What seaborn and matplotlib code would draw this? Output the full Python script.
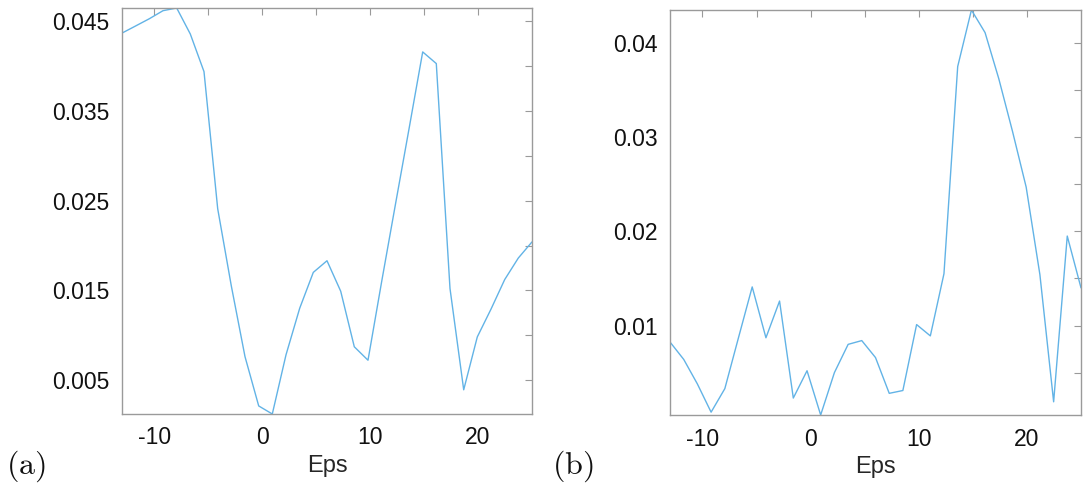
import numpy as np
import pandas as pd
import matplotlib
matplotlib.use("Agg")
import matplotlib.pyplot as plt
import seaborn as sns

# Eps grid shared by both panels
eps = [-13.00, -11.73, -10.47, -9.20, -7.93, -6.67, -5.40, -4.13, -2.87, -1.60,
       -0.33, 0.93, 2.20, 3.47, 4.73, 6.00, 7.27, 8.53, 9.80, 11.07,
       12.33, 13.60, 14.87, 16.13, 17.40, 18.67, 19.93, 21.20, 22.47, 23.73, 25.00]

# Panel (a) values
vals_a = [0.0437, 0.0445, 0.0453, 0.0462, 0.0465, 0.0436, 0.0394, 0.0241, 0.0155, 0.0076,
          0.0021, 0.0012, 0.0078, 0.0130, 0.0170, 0.0183, 0.0149, 0.0087, 0.0072, 0.0160,
          0.0245, 0.0330, 0.0416, 0.0403, 0.0152, 0.0039, 0.0098, 0.0129, 0.0162, 0.0186, 0.0204]

# Panel (b) values
vals_b = [0.00825, 0.0064, 0.0038, 0.0008, 0.0033, 0.0087, 0.0141, 0.0087, 0.0126, 0.0023,
          0.0052, 0.0005, 0.0050, 0.0080, 0.0084, 0.0066, 0.0028, 0.0031, 0.0101, 0.0089,
          0.0155, 0.0375, 0.0435, 0.0411, 0.0362, 0.0306, 0.0247, 0.0154, 0.0019, 0.0195, 0.0140]

yticks_a = [0.005, 0.01, 0.015, 0.02, 0.025, 0.03, 0.035, 0.04, 0.045]
ylabels_a = ["0.005", "", "0.015", "", "0.025", "", "0.035", "", "0.045"]
yticks_b = [0.005, 0.01, 0.015, 0.02, 0.025, 0.03, 0.035, 0.04]
ylabels_b = ["", "0.01", "", "0.02", "", "0.03", "", "0.04"]
xticks = [-10, -5, 0, 5, 10, 15, 20]
xlabels = ["-10", "", "0", "", "10", "", "20"]

sns.set_theme(style="white")
plt.rcParams["font.family"] = ["Liberation Sans", "DejaVu Sans"]
plt.rcParams["mathtext.fontset"] = "cm"

W, H = 1084, 484
fig = plt.figure(figsize=(W / 100, H / 100), dpi=100)
ax_a = fig.add_axes([122 / W, 1 - 414 / H, 410 / W, 406 / H])
ax_b = fig.add_axes([670 / W, 1 - 415 / H, 411 / W, 405 / H])

line_color = "#62b3e6"
spine_color = "#9a9a9a"

panels = [
    (ax_a, vals_a, yticks_a, ylabels_a, "(a)", 26),
    (ax_b, vals_b, yticks_b, ylabels_b, "(b)", 573),
]

for ax, vals, yt, yl, tag, tag_x in panels:
    df = pd.DataFrame({"Eps": eps, "value": vals})
    sns.lineplot(data=df, x="Eps", y="value", ax=ax, color=line_color, linewidth=1.0)
    ax.set_xlim(min(eps), max(eps))
    ax.set_ylim(min(vals), max(vals))
    ax.set_xticks(xticks)
    ax.set_xticklabels(xlabels)
    ax.set_yticks(yt)
    ax.set_yticklabels(yl)
    ax.set_ylabel("")
    ax.set_xlabel("Eps", fontsize=17, color="#262626", labelpad=4)
    ax.tick_params(direction="in", length=5, width=0.8, color=spine_color,
                   top=True, right=True, labelsize=16.5, labelcolor="#111111", pad=9)
    for sp in ax.spines.values():
        sp.set_visible(True)
        sp.set_color(spine_color)
        sp.set_linewidth(1.0)
    fig.text(tag_x / W, 1 - 466 / H, r"$\mathrm{" + tag + "}$", fontsize=23,
             ha="center", va="center", color="#111111")

fig.savefig("out.png", dpi=100)
